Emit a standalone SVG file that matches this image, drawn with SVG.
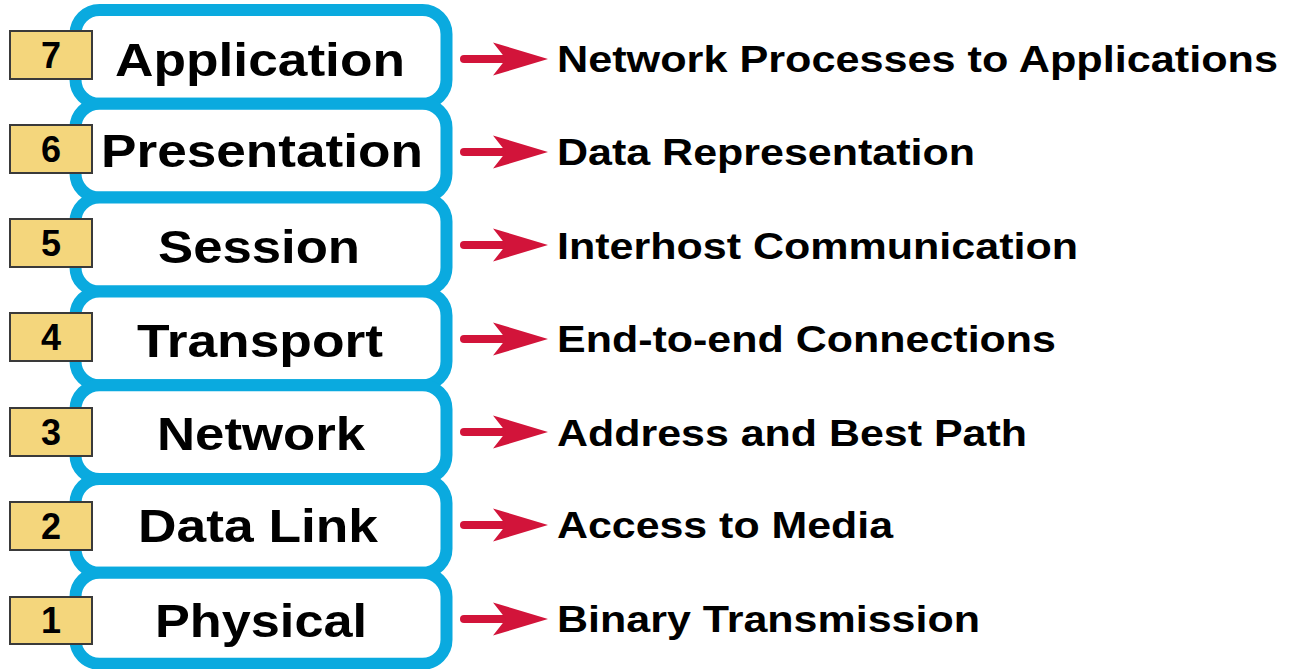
<svg xmlns="http://www.w3.org/2000/svg" width="1290" height="669" viewBox="0 0 1290 669">
<style>
.box{fill:#ffffff;stroke:#0AAADF;stroke-width:12}
.badge{fill:#F4D67C;stroke:#3a3a3a;stroke-width:2}
.num{font-family:"Liberation Sans",Arial,sans-serif;font-weight:bold;font-size:36px;fill:#000;text-anchor:middle}
.layer{font-family:"Liberation Sans",Arial,sans-serif;font-weight:bold;font-size:47px;fill:#000;text-anchor:middle}
.desc{font-family:"Liberation Sans",Arial,sans-serif;font-weight:bold;font-size:37px;fill:#000}
.arrow{fill:none;stroke:#D2143A;stroke-width:8;stroke-linecap:round}
</style>
<defs>
<marker id="head" markerUnits="userSpaceOnUse" markerWidth="56" markerHeight="34" refX="17" refY="16.5" orient="auto" overflow="visible">
<path d="M0,0 L55,16.5 L0,33 L13,16.5 Z" fill="#D2143A"/>
</marker>
</defs>
<rect width="1290" height="669" fill="#ffffff"/>
<g id="layer7">
<rect class="box" x="75.5" y="10" width="371" height="93.8" rx="24"/>
<rect class="badge" x="10" y="31" width="82" height="48"/>
<text class="num" x="51" y="68">7</text>
<text class="layer" x="260" y="76" textLength="290" lengthAdjust="spacingAndGlyphs">Application</text>
<text class="desc" x="557" y="72" textLength="721" lengthAdjust="spacingAndGlyphs">Network Processes to Applications</text>
</g>
<g id="layer6">
<rect class="box" x="75.5" y="103.8" width="371" height="93.8" rx="24"/>
<rect class="badge" x="10" y="125" width="82" height="48"/>
<text class="num" x="51" y="162">6</text>
<text class="layer" x="262" y="167" textLength="322" lengthAdjust="spacingAndGlyphs">Presentation</text>
<text class="desc" x="557" y="165" textLength="418" lengthAdjust="spacingAndGlyphs">Data Representation</text>
</g>
<g id="layer5">
<rect class="box" x="75.5" y="197.6" width="371" height="93.8" rx="24"/>
<rect class="badge" x="10" y="219" width="82" height="48"/>
<text class="num" x="51" y="256">5</text>
<text class="layer" x="259" y="263" textLength="202" lengthAdjust="spacingAndGlyphs">Session</text>
<text class="desc" x="557" y="259" textLength="521" lengthAdjust="spacingAndGlyphs">Interhost Communication</text>
</g>
<g id="layer4">
<rect class="box" x="75.5" y="291.4" width="371" height="93.8" rx="24"/>
<rect class="badge" x="10" y="313" width="82" height="48"/>
<text class="num" x="51" y="350">4</text>
<text class="layer" x="260" y="357" textLength="246" lengthAdjust="spacingAndGlyphs">Transport</text>
<text class="desc" x="557" y="352" textLength="499" lengthAdjust="spacingAndGlyphs">End-to-end Connections</text>
</g>
<g id="layer3">
<rect class="box" x="75.5" y="385.2" width="371" height="93.8" rx="24"/>
<rect class="badge" x="10" y="408" width="82" height="48"/>
<text class="num" x="51" y="445">3</text>
<text class="layer" x="261" y="450" textLength="208" lengthAdjust="spacingAndGlyphs">Network</text>
<text class="desc" x="557" y="446" textLength="470" lengthAdjust="spacingAndGlyphs">Address and Best Path</text>
</g>
<g id="layer2">
<rect class="box" x="75.5" y="479" width="371" height="93.8" rx="24"/>
<rect class="badge" x="10" y="502" width="82" height="48"/>
<text class="num" x="51" y="539">2</text>
<text class="layer" x="258" y="542" textLength="240" lengthAdjust="spacingAndGlyphs">Data Link</text>
<text class="desc" x="557" y="538" textLength="336" lengthAdjust="spacingAndGlyphs">Access to Media</text>
</g>
<g id="layer1">
<rect class="box" x="75.5" y="572.8" width="371" height="91" rx="24"/>
<rect class="badge" x="10" y="597" width="82" height="47"/>
<text class="num" x="51" y="633">1</text>
<text class="layer" x="261" y="637" textLength="212" lengthAdjust="spacingAndGlyphs">Physical</text>
<text class="desc" x="557" y="632" textLength="423" lengthAdjust="spacingAndGlyphs">Binary Transmission</text>
</g>
<g id="connectors">
<path class="arrow" d="M464,59 L510,59" marker-end="url(#head)"/>
<path class="arrow" d="M464,152 L510,152" marker-end="url(#head)"/>
<path class="arrow" d="M464,245 L510,245" marker-end="url(#head)"/>
<path class="arrow" d="M464,339 L510,339" marker-end="url(#head)"/>
<path class="arrow" d="M464,432 L510,432" marker-end="url(#head)"/>
<path class="arrow" d="M464,525 L510,525" marker-end="url(#head)"/>
<path class="arrow" d="M464,619 L510,619" marker-end="url(#head)"/>
</g>
</svg>
